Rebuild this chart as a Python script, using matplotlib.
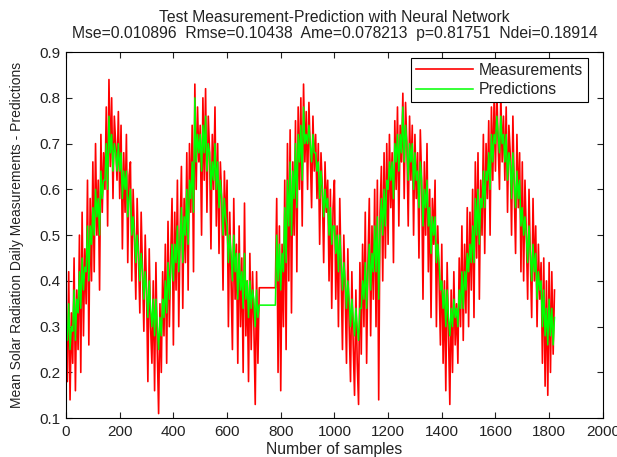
import numpy as np
import matplotlib
matplotlib.use("Agg")
import matplotlib.pyplot as plt

# sample index (every 5th sample)
samples = np.arange(0, 1825, 5)

measurements = [
    0.30, 0.18, 0.42, 0.14, 0.33, 0.22, 0.45, 0.16, 0.38, 0.25, 0.50, 0.20, 0.55, 0.28, 0.47, 0.35, 0.62, 0.26, 0.58, 0.40,
    0.66, 0.42, 0.70, 0.50, 0.62, 0.38, 0.72, 0.55, 0.68, 0.60, 0.78, 0.52, 0.84, 0.65, 0.80, 0.58, 0.76, 0.70, 0.62, 0.77,
    0.58, 0.74, 0.47, 0.68, 0.55, 0.72, 0.44, 0.63, 0.66, 0.40, 0.60, 0.50, 0.36, 0.58, 0.45, 0.33, 0.55, 0.42, 0.29, 0.50,
    0.38, 0.18, 0.47, 0.30, 0.22, 0.40, 0.16, 0.44, 0.25, 0.11, 0.35, 0.20, 0.42, 0.28, 0.48, 0.22, 0.53, 0.30, 0.45, 0.58,
    0.26, 0.55, 0.38, 0.62, 0.30, 0.50, 0.65, 0.34, 0.58, 0.44, 0.68, 0.38, 0.70, 0.55, 0.74, 0.42, 0.83, 0.60, 0.78, 0.66,
    0.74, 0.50, 0.80, 0.62, 0.82, 0.55, 0.76, 0.68, 0.47, 0.72, 0.60, 0.78, 0.52, 0.70, 0.46, 0.66, 0.58, 0.38, 0.64, 0.50,
    0.62, 0.30, 0.55, 0.40, 0.25, 0.58, 0.36, 0.48, 0.22, 0.52, 0.30, 0.45, 0.20, 0.57, 0.28, 0.40, 0.18, 0.46, 0.25, 0.42,
    0.30, 0.13, 0.42, 0.22, 0.385, 0.385, 0.385, 0.385, 0.385, 0.385, 0.385, 0.385, 0.385, 0.385, 0.385, 0.385, 0.385, 0.58, 0.20, 0.52,
    0.16, 0.48, 0.30, 0.62, 0.25, 0.70, 0.40, 0.73, 0.33, 0.66, 0.50, 0.75, 0.42, 0.78, 0.60, 0.80, 0.52, 0.83, 0.66, 0.77,
    0.60, 0.79, 0.68, 0.56, 0.76, 0.64, 0.72, 0.58, 0.70, 0.48, 0.68, 0.60, 0.44, 0.66, 0.55, 0.62, 0.40, 0.60, 0.34, 0.56,
    0.62, 0.36, 0.52, 0.30, 0.58, 0.42, 0.25, 0.50, 0.38, 0.22, 0.47, 0.30, 0.18, 0.42, 0.26, 0.15, 0.38, 0.22, 0.13, 0.44,
    0.24, 0.48, 0.30, 0.55, 0.22, 0.44, 0.58, 0.28, 0.52, 0.36, 0.60, 0.30, 0.62, 0.14, 0.55, 0.65, 0.40, 0.68, 0.45, 0.70,
    0.48, 0.72, 0.56, 0.68, 0.44, 0.75, 0.60, 0.78, 0.52, 0.74, 0.66, 0.81, 0.58, 0.79, 0.70, 0.52, 0.76, 0.62, 0.74, 0.50,
    0.72, 0.58, 0.68, 0.45, 0.73, 0.62, 0.36, 0.66, 0.50, 0.70, 0.42, 0.60, 0.32, 0.58, 0.48, 0.62, 0.30, 0.52, 0.40, 0.26,
    0.48, 0.22, 0.40, 0.16, 0.44, 0.28, 0.13, 0.38, 0.20, 0.42, 0.26, 0.35, 0.22, 0.45, 0.30, 0.52, 0.27, 0.48, 0.33, 0.56,
    0.30, 0.55, 0.38, 0.60, 0.32, 0.66, 0.45, 0.68, 0.36, 0.62, 0.50, 0.72, 0.46, 0.70, 0.58, 0.75, 0.50, 0.78, 0.62, 0.80,
    0.64, 0.82, 0.70, 0.60, 0.81, 0.66, 0.76, 0.62, 0.78, 0.55, 0.74, 0.68, 0.50, 0.76, 0.60, 0.46, 0.72, 0.56, 0.68, 0.42,
    0.66, 0.40, 0.62, 0.50, 0.36, 0.60, 0.45, 0.32, 0.58, 0.40, 0.52, 0.30, 0.48, 0.36, 0.44, 0.22, 0.45, 0.17, 0.40, 0.15,
    0.44, 0.20, 0.42, 0.24, 0.38,
]

predictions = [
    0.28, 0.27, 0.35, 0.25, 0.30, 0.29, 0.38, 0.27, 0.36, 0.33, 0.42, 0.34, 0.45, 0.38, 0.43, 0.42, 0.52, 0.40, 0.52, 0.48,
    0.56, 0.50, 0.60, 0.54, 0.58, 0.50, 0.64, 0.58, 0.62, 0.62, 0.70, 0.60, 0.76, 0.68, 0.72, 0.64, 0.70, 0.68, 0.64, 0.70,
    0.64, 0.68, 0.58, 0.64, 0.60, 0.64, 0.54, 0.58, 0.60, 0.50, 0.54, 0.50, 0.44, 0.50, 0.46, 0.40, 0.46, 0.42, 0.36, 0.42,
    0.38, 0.32, 0.40, 0.34, 0.30, 0.36, 0.28, 0.36, 0.30, 0.25, 0.32, 0.28, 0.36, 0.32, 0.40, 0.33, 0.44, 0.36, 0.42, 0.48,
    0.40, 0.48, 0.44, 0.52, 0.42, 0.48, 0.56, 0.44, 0.54, 0.50, 0.60, 0.48, 0.62, 0.58, 0.66, 0.55, 0.80, 0.66, 0.72, 0.68,
    0.72, 0.64, 0.74, 0.68, 0.76, 0.64, 0.70, 0.68, 0.60, 0.66, 0.62, 0.70, 0.60, 0.66, 0.56, 0.62, 0.58, 0.50, 0.58, 0.54,
    0.52, 0.44, 0.50, 0.46, 0.40, 0.50, 0.42, 0.46, 0.36, 0.46, 0.38, 0.42, 0.34, 0.46, 0.36, 0.40, 0.32, 0.40, 0.34, 0.38,
    0.36, 0.30, 0.38, 0.32, 0.347, 0.347, 0.347, 0.347, 0.347, 0.347, 0.347, 0.347, 0.347, 0.347, 0.347, 0.347, 0.347, 0.50, 0.40, 0.48,
    0.38, 0.46, 0.42, 0.56, 0.44, 0.62, 0.52, 0.66, 0.50, 0.64, 0.58, 0.70, 0.56, 0.72, 0.66, 0.74, 0.62, 0.78, 0.70, 0.72,
    0.70, 0.74, 0.70, 0.66, 0.72, 0.68, 0.68, 0.64, 0.66, 0.58, 0.64, 0.60, 0.54, 0.60, 0.56, 0.58, 0.50, 0.56, 0.48, 0.52,
    0.52, 0.46, 0.50, 0.42, 0.50, 0.44, 0.38, 0.44, 0.40, 0.34, 0.40, 0.36, 0.30, 0.36, 0.32, 0.28, 0.34, 0.30, 0.27, 0.34,
    0.34, 0.40, 0.36, 0.44, 0.34, 0.42, 0.48, 0.38, 0.46, 0.42, 0.52, 0.42, 0.54, 0.36, 0.52, 0.58, 0.50, 0.60, 0.52, 0.62,
    0.60, 0.66, 0.62, 0.66, 0.58, 0.70, 0.66, 0.72, 0.64, 0.72, 0.68, 0.78, 0.66, 0.74, 0.70, 0.62, 0.70, 0.66, 0.70, 0.60,
    0.68, 0.62, 0.64, 0.56, 0.66, 0.62, 0.52, 0.60, 0.56, 0.62, 0.52, 0.56, 0.46, 0.54, 0.50, 0.54, 0.44, 0.48, 0.44, 0.38,
    0.40, 0.34, 0.38, 0.30, 0.38, 0.32, 0.28, 0.34, 0.30, 0.36, 0.32, 0.34, 0.30, 0.38, 0.34, 0.42, 0.34, 0.42, 0.38, 0.46,
    0.42, 0.48, 0.44, 0.52, 0.44, 0.58, 0.50, 0.60, 0.48, 0.58, 0.56, 0.64, 0.56, 0.64, 0.62, 0.68, 0.60, 0.72, 0.66, 0.72,
    0.70, 0.76, 0.72, 0.68, 0.76, 0.70, 0.72, 0.66, 0.72, 0.62, 0.68, 0.66, 0.58, 0.68, 0.62, 0.56, 0.64, 0.58, 0.62, 0.52,
    0.56, 0.50, 0.54, 0.50, 0.44, 0.52, 0.46, 0.40, 0.48, 0.42, 0.46, 0.36, 0.42, 0.38, 0.40, 0.30, 0.38, 0.28, 0.34, 0.26,
    0.36, 0.28, 0.34, 0.26, 0.32,
]

title_lines = [
    "Test Measurement-Prediction with Neural Network",
    "Mse=0.010896  Rmse=0.10438  Ame=0.078213  p=0.81751  Ndei=0.18914",
]

plt.rcParams['font.family'] = ['Liberation Sans', 'DejaVu Sans']
plt.rcParams['font.size'] = 11

fig = plt.figure(figsize=(6.17, 4.57), dpi=100)
ax = fig.add_axes([0.107, 0.085, 0.870, 0.801])

ax.plot(samples, measurements, color='#ff0000', linewidth=1.2, label='Measurements')
ax.plot(samples, predictions, color='#00ff00', linewidth=1.1, label='Predictions')

ax.set_xlim(0, 2000)
ax.set_ylim(0.1, 0.9)
ax.set_xticks(np.arange(0, 2001, 200))
ax.set_yticks(np.arange(0.1, 0.91, 0.1))
ax.set_yticklabels([f"{v:.1f}" for v in np.arange(0.1, 0.91, 0.1)])
ax.tick_params(direction='in', top=True, right=True, length=4, width=0.8,
               labelsize=11, colors='#222222', labelcolor='#222222')
ax.tick_params(axis='x', pad=5)
ax.tick_params(axis='y', pad=4)
for sp in ax.spines.values():
    sp.set_linewidth(0.8)

ax.set_title("\n".join(title_lines), fontsize=11.3, pad=10, linespacing=1.1, color='#222222')
ax.set_xlabel("Number of samples", fontsize=11.3, labelpad=2, color='#222222')
ax.set_ylabel("Mean Solar Radiation Daily Measurements - Predictions", fontsize=10,
              labelpad=11, color='#222222')

leg = ax.legend(loc='upper right', bbox_to_anchor=(0.972, 0.984), borderaxespad=0,
                fancybox=False, edgecolor='black', framealpha=1, fontsize=11.3,
                handlelength=3.6, handletextpad=0.4, borderpad=0.3, labelspacing=0.3)
leg.get_frame().set_linewidth(0.8)
for t in leg.get_texts():
    t.set_color('#222222')

fig.savefig("out.png", dpi=100, facecolor='white')
